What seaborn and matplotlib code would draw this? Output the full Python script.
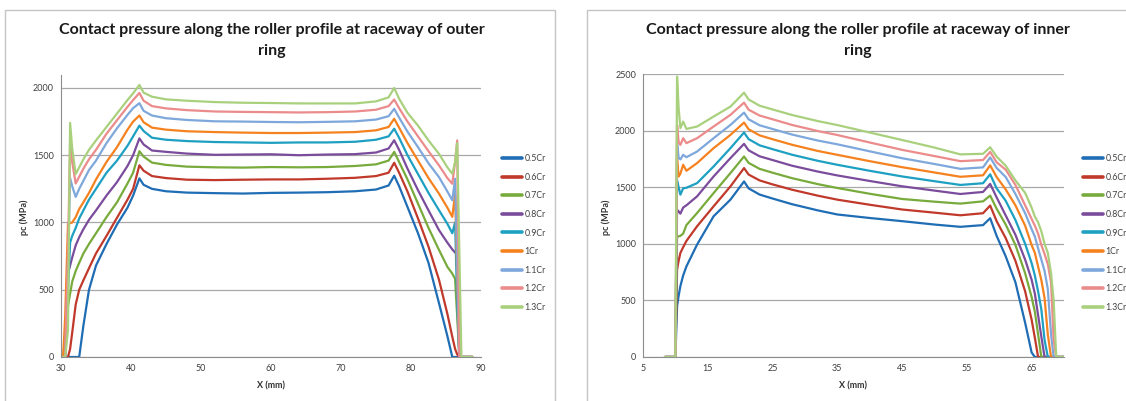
import matplotlib
matplotlib.use('Agg')
import matplotlib.pyplot as plt
from matplotlib.patches import Rectangle
import pandas as pd
import seaborn as sns

# Series names and colours (Excel style palette)
series_names = ['0.5Cr', '0.6Cr', '0.7Cr', '0.8Cr', '0.9Cr', '1Cr', '1.1Cr', '1.2Cr', '1.3Cr']
line_colors = ['#1f6db5', '#c0392b', '#78ab3c', '#7b4c9c', '#1ea0c2',
               '#f5821f', '#7ea8dc', '#eb8b8b', '#a9d17d']

# ---- outer ring: X (mm) and contact pressure (MPa) ----
x_outer = [30.3, 30.6, 31.0, 31.3, 31.6, 32.1, 32.6, 33.2, 34.0, 35.0,
           36.5, 38.0, 39.5, 40.3, 41.2, 41.8, 43.0, 45.0, 48.0, 52.0,
           56.0, 60.0, 64.0, 68.0, 72.0, 75.0, 76.8, 77.6, 78.3, 79.5,
           81.0, 82.5, 84.0, 85.2, 85.9, 86.3, 86.6, 86.9, 87.2, 88.8]

outer_05 = [0, 0, 0, 0, 0, 0, 0, 234, 500, 680,
            840, 985, 1110, 1200, 1328, 1280, 1250, 1232, 1222, 1218,
            1215, 1220, 1222, 1225, 1232, 1245, 1275, 1348, 1270, 1115,
            920, 700, 400, 155, 0, 0, 0, 0, 0, 0]
outer_06 = [0, 0, 0, 60, 180, 390, 500, 570, 660, 770,
            900, 1035, 1170, 1250, 1425, 1385, 1345, 1330, 1318, 1315,
            1318, 1320, 1320, 1325, 1332, 1345, 1370, 1444, 1370, 1230,
            1030, 820, 574, 320, 150, 60, 20, 0, 0, 0]
outer_07 = [0, 120, 380, 470, 560, 640, 700, 770, 840, 920,
            1040, 1150, 1290, 1370, 1530, 1490, 1445, 1428, 1415, 1410,
            1408, 1412, 1410, 1412, 1420, 1432, 1460, 1525, 1450, 1320,
            1140, 960, 796, 670, 620, 580, 300, 0, 0, 0]
outer_08 = [0, 0, 620, 680, 740, 830, 890, 950, 1020, 1090,
            1200, 1300, 1420, 1500, 1625, 1580, 1535, 1525, 1512, 1503,
            1505, 1507, 1500, 1505, 1508, 1520, 1550, 1611, 1540, 1400,
            1240, 1090, 943, 850, 800, 776, 770, 0, 0, 0]
outer_09 = [0, 0, 500, 850, 900, 960, 1030, 1090, 1170, 1250,
            1370, 1460, 1570, 1640, 1720, 1680, 1630, 1615, 1605, 1598,
            1595, 1592, 1595, 1595, 1600, 1615, 1640, 1697, 1630, 1500,
            1360, 1220, 1091, 990, 920, 1000, 400, 0, 0, 0]
outer_10 = [0, 300, 990, 995, 1000, 1040, 1100, 1150, 1220, 1320,
            1450, 1560, 1690, 1750, 1795, 1745, 1705, 1690, 1678, 1672,
            1668, 1665, 1665, 1668, 1672, 1685, 1710, 1771, 1705, 1590,
            1460, 1330, 1214, 1110, 1042, 1214, 600, 0, 0, 0]
outer_11 = [0, 0, 700, 1330, 1270, 1190, 1250, 1310, 1390, 1460,
            1590, 1700, 1800, 1850, 1887, 1830, 1795, 1775, 1762, 1752,
            1750, 1747, 1745, 1748, 1752, 1765, 1790, 1845, 1780, 1675,
            1560, 1440, 1337, 1230, 1165, 1325, 700, 0, 0, 0]
outer_12 = [0, 0, 800, 1600, 1450, 1290, 1340, 1400, 1470, 1540,
            1660, 1760, 1860, 1910, 1963, 1905, 1865, 1848, 1835, 1825,
            1822, 1820, 1818, 1820, 1825, 1838, 1865, 1914, 1850, 1750,
            1640, 1530, 1424, 1330, 1288, 1450, 1610, 0, 0, 0]
outer_13 = [0, 0, 200, 1740, 1550, 1360, 1410, 1470, 1540, 1610,
            1710, 1810, 1910, 1960, 2022, 1965, 1935, 1915, 1905, 1895,
            1890, 1888, 1885, 1885, 1885, 1900, 1930, 2000, 1920, 1815,
            1720, 1610, 1510, 1410, 1362, 1450, 1590, 800, 0, 0]

# ---- inner ring ----
x_inner = [8.4, 10.0, 10.26, 10.5, 10.77, 11.2, 11.7, 13.35, 15.9, 18.5,
           20.6, 21.3, 23.0, 25.0, 28.0, 32.0, 35.0, 40.0, 45.0, 50.0,
           54.0, 57.5, 58.6, 59.6, 61.0, 62.5, 64.0, 65.0, 65.5, 66.0,
           66.5, 67.0, 67.5, 68.0, 68.4, 68.8, 70.0]

inner_05 = [0, 0, 449, 540, 626, 720, 800, 993, 1243, 1390,
            1551, 1490, 1435, 1400, 1350, 1295, 1259, 1228, 1200, 1170,
            1150, 1165, 1226, 1070, 889, 660, 302, 40, 0, 0,
            0, 0, 0, 0, 0, 0, 0]
inner_06 = [0, 0, 773, 850, 919, 970, 1025, 1155, 1331, 1507,
            1669, 1612, 1560, 1525, 1478, 1425, 1390, 1345, 1303, 1275,
            1252, 1270, 1338, 1200, 1050, 850, 580, 330, 170, 0,
            0, 0, 0, 0, 0, 0, 0]
inner_07 = [0, 0, 1060, 1066, 1070, 1090, 1165, 1272, 1448, 1625,
            1771, 1715, 1662, 1628, 1580, 1527, 1493, 1442, 1396, 1372,
            1355, 1375, 1426, 1310, 1170, 990, 740, 530, 400, 200,
            0, 0, 0, 0, 0, 0, 0]
inner_08 = [0, 0, 1300, 1287, 1266, 1320, 1340, 1419, 1595, 1757,
            1883, 1826, 1773, 1740, 1690, 1638, 1604, 1555, 1508, 1470,
            1440, 1458, 1529, 1410, 1250, 1080, 860, 683, 560, 370,
            180, 0, 0, 0, 0, 0, 0]
inner_09 = [0, 0, 1560, 1500, 1434, 1490, 1495, 1536, 1683, 1845,
            1983, 1925, 1870, 1836, 1787, 1733, 1698, 1645, 1595, 1553,
            1520, 1535, 1614, 1490, 1380, 1210, 1000, 830, 720, 580,
            420, 150, 0, 0, 0, 0, 0]
inner_10 = [0, 0, 1750, 1595, 1620, 1698, 1645, 1713, 1845, 1962,
            2071, 2012, 1958, 1924, 1875, 1820, 1786, 1730, 1677, 1630,
            1592, 1605, 1693, 1590, 1480, 1340, 1160, 990, 920, 800,
            680, 520, 200, 0, 0, 0, 0]
inner_11 = [0, 0, 1900, 1760, 1745, 1786, 1765, 1815, 1933, 2050,
            2159, 2100, 2047, 2014, 1965, 1912, 1879, 1817, 1756, 1705,
            1662, 1675, 1763, 1670, 1590, 1440, 1270, 1130, 1064, 960,
            860, 760, 600, 200, 0, 0, 0]
inner_12 = [0, 0, 2050, 1900, 1874, 1933, 1889, 1933, 2036, 2139,
            2247, 2185, 2133, 2100, 2050, 1996, 1961, 1895, 1830, 1775,
            1730, 1740, 1812, 1720, 1655, 1520, 1340, 1220, 1160, 1090,
            990, 910, 820, 660, 150, 0, 0]
inner_13 = [0, 0, 2477, 2200, 2021, 2080, 2015, 2036, 2124, 2212,
            2335, 2275, 2220, 2187, 2138, 2084, 2049, 1983, 1917, 1850,
            1790, 1795, 1853, 1770, 1690, 1560, 1450, 1320, 1240, 1190,
            1110, 1000, 920, 740, 500, 0, 0]

outer_curves = [outer_05, outer_06, outer_07, outer_08, outer_09,
                outer_10, outer_11, outer_12, outer_13]
inner_curves = [inner_05, inner_06, inner_07, inner_08, inner_09,
                inner_10, inner_11, inner_12, inner_13]

sns.set_style('white')
plt.rcParams['font.family'] = ['Lato', 'DejaVu Sans']

W, H = 1126, 401
fig = plt.figure(figsize=(W / 100, H / 100), dpi=100)


def fx(px):
    return px / W


def fy(py):
    return 1 - py / H


# chart area borders
fig.add_artist(Rectangle((fx(5), -0.1), fx(550), fy(10) + 0.1, transform=fig.transFigure,
                         fill=False, edgecolor='#c4c4c4', lw=1.0))
fig.add_artist(Rectangle((fx(587), -0.1), fx(560), fy(10) + 0.1, transform=fig.transFigure,
                         fill=False, edgecolor='#c4c4c4', lw=1.0))


def draw_panel(ax, x_vals, curves, xlim, ylim, xticks, yticks, legend_x):
    frames = []
    for name, vals in zip(series_names, curves):
        frames.append(pd.DataFrame({'x': x_vals, 'pc': vals, 'series': name}))
    df = pd.concat(frames, ignore_index=True)
    sns.lineplot(data=df, x='x', y='pc', hue='series', hue_order=series_names,
                 palette=line_colors, estimator=None, sort=False, linewidth=1.6, ax=ax)
    ax.set_xlim(*xlim)
    ax.set_ylim(*ylim)
    ax.set_xticks(xticks)
    ax.set_yticks(yticks)
    ax.set_xlabel('')
    ax.set_ylabel('')
    ax.grid(axis='y', color='#a8a8a8', lw=0.9)
    ax.grid(axis='x', visible=False)
    for side in ['top', 'right']:
        ax.spines[side].set_visible(False)
    for side in ['left', 'bottom']:
        ax.spines[side].set_color('#8c8c8c')
        ax.spines[side].set_linewidth(0.8)
    ax.tick_params(direction='out', length=3, width=0.8, color='#8c8c8c',
                   labelsize=6.5, labelcolor='#404040', pad=2)
    handles, labels = ax.get_legend_handles_labels()
    keep = [(h, l) for h, l in zip(handles, labels) if l in series_names]
    leg = ax.legend([k[0] for k in keep], [k[1] for k in keep], loc='center left',
                    bbox_to_anchor=(legend_x, fy(233)), bbox_transform=fig.transFigure,
                    frameon=False, fontsize=6.3, handlelength=2.3, handletextpad=0.25,
                    labelspacing=1.1, borderpad=0, borderaxespad=0)
    for line in leg.get_lines():
        line.set_linewidth(2.6)
    for t in leg.get_texts():
        t.set_color('#404040')


ax1 = fig.add_axes([fx(61), fy(357), fx(420), fy(74.5) - fy(357)])
draw_panel(ax1, x_outer, outer_curves, (30, 90), (0, 2100),
           range(30, 91, 10), range(0, 2001, 500), fx(502))

ax2 = fig.add_axes([fx(643), fy(357), fx(421), fy(74) - fy(357)])
draw_panel(ax2, x_inner, inner_curves, (5, 70), (0, 2500),
           range(5, 66, 10), range(0, 2501, 500), fx(1083))

# titles
title_kw = dict(ha='center', va='center', fontsize=11.5, fontweight='bold', color='#1a1a1a')
fig.text(fx(272), fy(30), 'Contact pressure along the roller profile at raceway of outer', **title_kw)
fig.text(fx(272), fy(51), 'ring', **title_kw)
fig.text(fx(858), fy(30), 'Contact pressure along the roller profile at raceway of inner', **title_kw)
fig.text(fx(858), fy(51), 'ring', **title_kw)

# axis titles
lab_kw = dict(ha='center', va='center', fontsize=6.5, fontweight='bold', color='#333333')
fig.text(fx(271), fy(386), 'X (mm)', **lab_kw)
fig.text(fx(853), fy(386), 'X (mm)', **lab_kw)
fig.text(fx(24), fy(217), 'pc (MPa)', rotation=90, **lab_kw)
fig.text(fx(606), fy(217), 'pc (MPa)', rotation=90, **lab_kw)

fig.savefig('out.png', dpi=100)
plt.close('all')
